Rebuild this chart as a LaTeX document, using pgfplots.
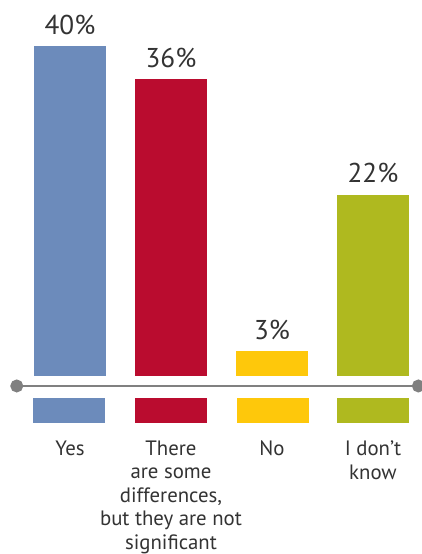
\documentclass[border=0pt]{standalone}
\usepackage{pgfplots}
\pgfplotsset{compat=1.18}
\usepackage{fontspec}
\setmainfont{PT Sans}
\definecolor{cBlue}{HTML}{6C8BBB}
\definecolor{cRed}{HTML}{BA0C2F}
\definecolor{cYellow}{HTML}{FEC80B}
\definecolor{cGreen}{HTML}{AFB91F}
\definecolor{cLine}{HTML}{808080}
\definecolor{cText}{HTML}{333333}
\begin{document}
\begin{tikzpicture}
\begin{axis}[
  x=50.5pt, y=4.125pt,
  xmin=-0.693, xmax=3.485, ymin=-7.82, ymax=45.58,
  /pgf/number format/assume math mode=true,
  axis x line*=bottom, axis y line=none,
  x axis line style={draw=none},
  xtick={0,1,2,3},
  xticklabels={Yes, {There\\are some\\differences,\\but they are not\\significant}, No, {I don't\\know}},
  major tick length=0pt,
  xticklabel style={anchor=north, inner sep=0pt, align=center,
    font=\fontsize{10.4}{11.75}\selectfont, text=cText},
  clip=false,
  nodes near coords style={font=\fontsize{13.6}{16}\selectfont, text=cText,
    anchor=south, inner sep=0pt, yshift=5.5pt},
]
% upper bars
\addplot[ybar, bar width=36pt, bar shift=0pt, fill=cBlue, draw=none,
  nodes near coords={\pgfmathprintnumber{\pgfplotspointmeta}\%}] coordinates {(0,40)};
\addplot[ybar, bar width=36pt, bar shift=0pt, fill=cRed, draw=none,
  nodes near coords={\pgfmathprintnumber{\pgfplotspointmeta}\%}] coordinates {(1,36)};
\addplot[ybar, bar width=36pt, bar shift=0pt, fill=cYellow, draw=none,
  nodes near coords={\pgfmathprintnumber{\pgfplotspointmeta}\%}] coordinates {(2,3)};
\addplot[ybar, bar width=36pt, bar shift=0pt, fill=cGreen, draw=none,
  nodes near coords={\pgfmathprintnumber{\pgfplotspointmeta}\%}] coordinates {(3,22)};
% lower stubs
\addplot[fill=cBlue, draw=none, mark=none] coordinates {(-0.366,-2.67) (0.346,-2.67) (0.346,-5.70) (-0.366,-5.70)};
\addplot[fill=cRed, draw=none, mark=none] coordinates {(0.644,-2.67) (1.356,-2.67) (1.356,-5.70) (0.644,-5.70)};
\addplot[fill=cYellow, draw=none, mark=none] coordinates {(1.654,-2.67) (2.366,-2.67) (2.366,-5.70) (1.654,-5.70)};
\addplot[fill=cGreen, draw=none, mark=none] coordinates {(2.644,-2.67) (3.356,-2.67) (3.356,-5.70) (2.644,-5.70)};
% baseline with end dots
\addplot[cLine, line width=1.25pt, mark=*, mark size=2.6pt,
  mark options={fill=cLine, draw=none}] coordinates {(-0.527,-1.21) (3.450,-1.21)};
\coordinate (BL) at (axis cs:-0.693,-21.58);
\coordinate (TR) at (axis cs:3.485,45.58);
\end{axis}
\pgfresetboundingbox
\path[use as bounding box] (BL) rectangle (TR);
\end{tikzpicture}
\end{document}
